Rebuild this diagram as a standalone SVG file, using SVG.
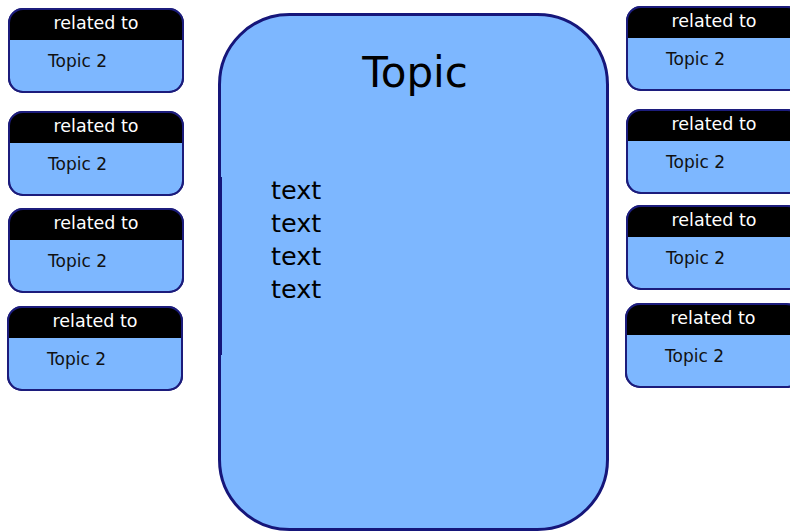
<svg xmlns="http://www.w3.org/2000/svg" width="790" height="531" viewBox="0 0 790 531">
<style>
.box{fill:#7db7ff;stroke:#1c1c7c;stroke-width:2}
.hd{fill:#000}
.rt{font-family:"DejaVu Sans",sans-serif;font-size:17.5px;fill:#fff;text-anchor:middle}
.t2{font-family:"DejaVu Sans",sans-serif;font-size:17px;fill:#111}
.main{fill:#7db7ff;stroke:#16167a;stroke-width:3}
.big{font-family:"DejaVu Sans",sans-serif;font-size:42px;fill:#000;text-anchor:middle}
.txt{font-family:"DejaVu Sans",sans-serif;font-size:25.5px;fill:#000}
</style>
<defs>
<g id="rel">
<rect class="box" x="0" y="0" width="174" height="83" rx="14"/>
<path class="hd" d="M0 31 V14 A14 14 0 0 1 14 0 H160 A14 14 0 0 1 174 14 V31 Z"/>
<rect x="0" y="0" width="174" height="83" rx="14" fill="none" stroke="#1c1c7c" stroke-width="2"/>
<text class="rt" x="87" y="20">related to</text>
<text class="t2" x="39" y="58">Topic 2</text>
</g>
</defs>
<g id="main">
<rect class="main" x="219.5" y="14.5" width="388" height="515" rx="70"/>
<line x1="220.5" y1="177" x2="220.5" y2="355" stroke="#16167a" stroke-width="3"/>
<text class="big" x="415" y="87">Topic</text>
<text class="txt" x="271" y="199">text</text>
<text class="txt" x="271" y="232">text</text>
<text class="txt" x="271" y="265">text</text>
<text class="txt" x="271" y="298">text</text>
</g>
<g id="l1"><use href="#rel" x="9" y="9"/></g>
<g id="l2"><use href="#rel" x="9" y="112"/></g>
<g id="l3"><use href="#rel" x="9" y="209"/></g>
<g id="l4"><use href="#rel" x="8" y="307"/></g>
<g id="r1"><use href="#rel" x="627" y="7"/></g>
<g id="r2"><use href="#rel" x="627" y="110"/></g>
<g id="r3"><use href="#rel" x="627" y="206"/></g>
<g id="r4"><use href="#rel" x="626" y="304"/></g>
<g id="connectors"></g>
</svg>
